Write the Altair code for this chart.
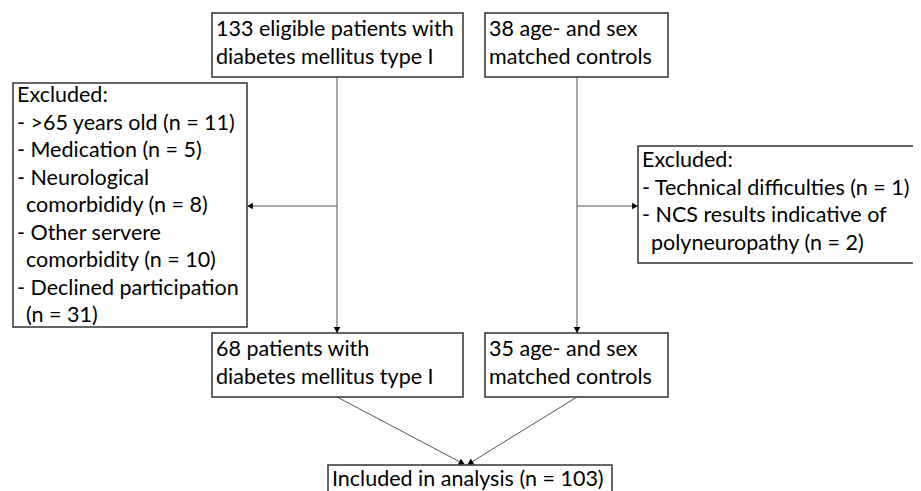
import math
import altair as alt
import pandas as pd

# ---- content ----
box_ids = ["A", "B", "C", "E", "D", "F", "G"]
box_texts = {
    "A": ["133 eligible patients with", "diabetes mellitus type I"],
    "B": ["38 age- and sex", "matched controls"],
    "C": ["Excluded:", "- >65 years old (n = 11)", "- Medication (n = 5)", "- Neurological",
          "  comorbididy (n = 8)", "- Other servere", "  comorbidity (n = 10)",
          "- Declined participation", "  (n = 31)"],
    "E": ["Excluded:", "- Technical difficulties (n = 1)", "- NCS results indicative of",
          "  polyneuropathy (n = 2)"],
    "D": ["68 patients with", "diabetes mellitus type I"],
    "F": ["35 age- and sex", "matched controls"],
    "G": ["Included in analysis (n = 103)"],
}

# ---- layout (pixel coordinates of the reference) ----
box_x0 = {"A": 212, "B": 485, "C": 13, "E": 638, "D": 212, "F": 485, "G": 328}
box_x1 = {"A": 463, "B": 668, "C": 247, "E": 915, "D": 463, "F": 668, "G": 612}
box_y0 = {"A": 13, "B": 13, "C": 83, "E": 146, "D": 333, "F": 333, "G": 465}
box_y1 = {"A": 77, "B": 77, "C": 327, "E": 263, "D": 397, "F": 397, "G": 500}
first_line = {"A": 30, "B": 30, "C": 96, "E": 161, "D": 350, "F": 350, "G": 480}
line_gap = 27.5
pad_left = 4
indent = 9

# connectors: (x1, y1, x2, y2)
conn_x1 = [337, 577, 337, 577, 337, 577]
conn_y1 = [77, 77, 206, 206, 397, 397]
conn_x2 = [337, 577, 250, 635, 462, 470]
conn_y2 = [330, 330, 206, 206, 463, 463]

FONT = "Lato"
FS = 21.5

rects = pd.DataFrame({
    "x0": [box_x0[b] for b in box_ids],
    "x1": [box_x1[b] for b in box_ids],
    "y0": [box_y0[b] for b in box_ids],
    "y1": [box_y1[b] for b in box_ids],
})

rows = []
for b in box_ids:
    for i, t in enumerate(box_texts[b]):
        ind = indent if t.startswith("  ") else 0
        rows.append({"x": box_x0[b] + pad_left + ind, "y": first_line[b] + i * line_gap,
                     "t": t.strip()})
texts = pd.DataFrame(rows)

lines = pd.DataFrame({"x1": conn_x1, "y1": conn_y1, "x2": conn_x2, "y2": conn_y2})

heads = []
for a, b_, c, d in zip(conn_x1, conn_y1, conn_x2, conn_y2):
    dx, dy = c - a, d - b_
    ang = math.degrees(math.atan2(dx, -dy)) % 360
    heads.append({"x": c, "y": d, "ang": ang})
heads = pd.DataFrame(heads)

xs = alt.Scale(domain=[8, 913], nice=False, zero=False)
ys = alt.Scale(domain=[8, 491], nice=False, zero=False, reverse=True)

line_layer = alt.Chart(lines).mark_rule(color="#555555", strokeWidth=1).encode(
    x=alt.X("x1:Q", scale=xs, axis=None), y=alt.Y("y1:Q", scale=ys, axis=None),
    x2="x2:Q", y2="y2:Q")

rect_layer = alt.Chart(rects).mark_rect(fill="white", stroke="#333333", strokeWidth=1.5).encode(
    x=alt.X("x0:Q", scale=xs, axis=None), x2="x1:Q",
    y=alt.Y("y0:Q", scale=ys, axis=None), y2="y1:Q")

text_layer = alt.Chart(texts).mark_text(
    align="left", baseline="middle", font=FONT, fontSize=FS, color="black").encode(
    x=alt.X("x:Q", scale=xs, axis=None), y=alt.Y("y:Q", scale=ys, axis=None), text="t:N")

head_layer = alt.Chart(heads).mark_point(
    shape="triangle-up", filled=True, color="black", size=45, opacity=1).encode(
    x=alt.X("x:Q", scale=xs, axis=None), y=alt.Y("y:Q", scale=ys, axis=None),
    angle=alt.Angle("ang:Q", scale=None))

chart = alt.layer(line_layer, rect_layer, text_layer, head_layer).properties(
    width=905, height=483, autosize=alt.AutoSizeParams(type="none"), padding=0
).configure_view(stroke=None)

chart.save("out.html", embed_options={"renderer": "svg", "actions": False})
